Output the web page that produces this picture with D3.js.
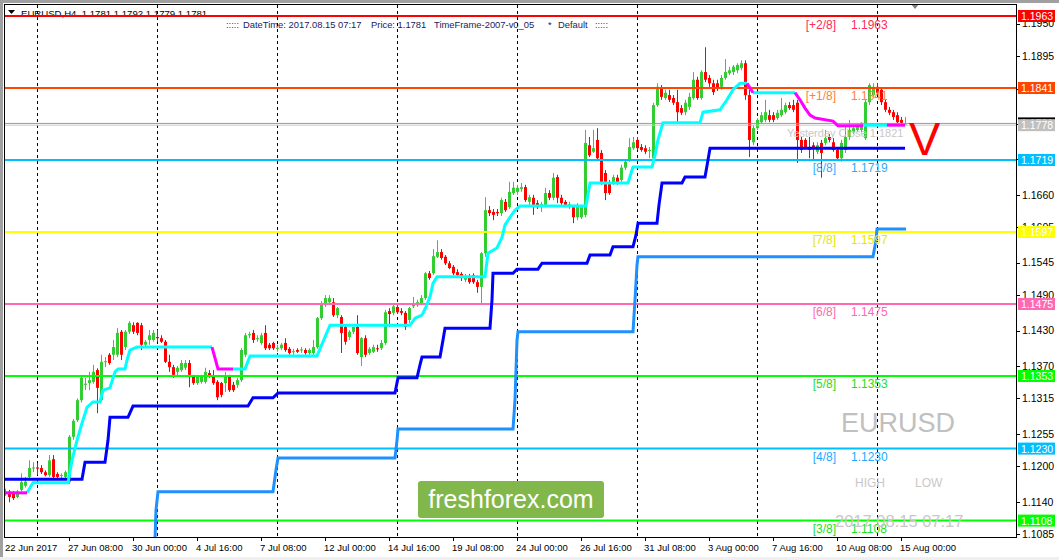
<!DOCTYPE html>
<html><head><meta charset="utf-8">
<script src="https://cdn.jsdelivr.net/npm/d3@7"></script>
<style>
html,body{margin:0;padding:0;background:#fff;}
svg{display:block;font-family:"Liberation Sans",Arial,sans-serif;}
text{white-space:pre;}
</style></head><body>
<svg id="chart" width="1059" height="560"></svg>
<script>
// ---------------- DATA ----------------
const symbolName = "EURUSD";
const headerQuote = "EURUSD,H4  1.1781 1.1792 1.1779 1.1781";
const opens = [1.1153,1.1157,1.1155,1.1148,1.1160,1.1167,1.1182,1.1197,1.1198,1.1197,1.1190,1.1185,1.1212,1.1187,1.1184,1.1182,1.1173,1.1250,1.1278,1.1312,
1.1338,1.1341,1.1343,1.1363,1.1312,1.1377,1.1389,1.1389,1.1389,1.1428,1.1402,1.1428,1.1439,1.1443,1.1439,1.1406,1.1414,1.1414,1.1419,1.1417,
1.1411,1.1377,1.1368,1.1360,1.1363,1.1367,1.1375,1.1352,1.1341,1.1343,1.1343,1.1358,1.1352,1.1343,1.1341,1.1341,1.1352,1.1338,1.1338,1.1346,
1.1389,1.1422,1.1426,1.1416,1.1409,1.1426,1.1406,1.1409,1.1399,1.1400,1.1409,1.1399,1.1394,1.1397,1.1397,1.1397,1.1392,1.1392,1.1402,1.1451,
1.1473,1.1478,1.1478,1.1456,1.1453,1.1436,1.1419,1.1428,1.1436,1.1385,1.1417,1.1392,1.1394,1.1400,1.1400,1.1409,1.1463,1.1460,1.1470,1.1463,
1.1460,1.1448,1.1471,1.1473,1.1476,1.1485,1.1527,1.1527,1.1555,1.1563,1.1555,1.1544,1.1538,1.1529,1.1526,1.1516,1.1521,1.1524,1.1512,1.1504,
1.1561,1.1634,1.1631,1.1631,1.1629,1.1648,1.1639,1.1663,1.1665,1.1670,1.1673,1.1648,1.1655,1.1646,1.1643,1.1643,1.1663,1.1655,1.1690,1.1655,
1.1648,1.1643,1.1639,1.1622,1.1622,1.1626,1.1744,1.1733,1.1753,1.1731,1.1697,1.1680,1.1680,1.1689,1.1685,1.1706,1.1719,1.1739,1.1753,1.1741,
1.1739,1.1735,1.1722,1.1812,1.1841,1.1824,1.1829,1.1824,1.1817,1.1807,1.1800,1.1809,1.1824,1.1855,1.1824,1.1868,1.1858,1.1849,1.1849,1.1843,
1.1858,1.1866,1.1868,1.1871,1.1875,1.1883,1.1829,1.1749,1.1773,1.1783,1.1787,1.1795,1.1795,1.1790,1.1795,1.1800,1.1812,1.1812,1.1816,1.1753,
1.1753,1.1741,1.1744,1.1733,1.1748,1.1748,1.1758,1.1749,1.1736,1.1722,1.1736,1.1758,1.1766,1.1770,1.1770,1.1756,1.1817,1.1829,1.1843,1.1838,
1.1817,1.1804,1.1800,1.1795,1.1787,1.1779];
const highs = [1.1162,1.1160,1.1158,1.1160,1.1188,1.1182,1.1210,1.1207,1.1205,1.1202,1.1193,1.1219,1.1219,1.1190,1.1188,1.1193,1.1253,1.1280,1.1315,1.1355,
1.1350,1.1360,1.1372,1.1366,1.1389,1.1385,1.1392,1.1414,1.1434,1.1431,1.1431,1.1446,1.1444,1.1444,1.1443,1.1414,1.1431,1.1431,1.1431,1.1422,
1.1414,1.1389,1.1372,1.1370,1.1380,1.1380,1.1380,1.1355,1.1355,1.1355,1.1367,1.1363,1.1363,1.1346,1.1343,1.1360,1.1355,1.1343,1.1350,1.1400,
1.1426,1.1428,1.1431,1.1422,1.1426,1.1439,1.1409,1.1411,1.1406,1.1409,1.1417,1.1402,1.1399,1.1400,1.1402,1.1400,1.1400,1.1414,1.1453,1.1480,
1.1490,1.1490,1.1485,1.1470,1.1456,1.1439,1.1431,1.1436,1.1456,1.1419,1.1422,1.1402,1.1406,1.1406,1.1414,1.1465,1.1468,1.1475,1.1475,1.1468,
1.1463,1.1470,1.1487,1.1482,1.1490,1.1529,1.1531,1.1568,1.1583,1.1568,1.1558,1.1548,1.1541,1.1534,1.1529,1.1526,1.1526,1.1527,1.1516,1.1563,
1.1656,1.1641,1.1636,1.1636,1.1655,1.1653,1.1682,1.1682,1.1677,1.1680,1.1677,1.1660,1.1660,1.1651,1.1648,1.1672,1.1668,1.1697,1.1694,1.1660,
1.1651,1.1648,1.1643,1.1646,1.1643,1.1770,1.1758,1.1770,1.1773,1.1736,1.1702,1.1685,1.1694,1.1694,1.1711,1.1719,1.1756,1.1758,1.1758,1.1746,
1.1744,1.1741,1.1816,1.1849,1.1846,1.1838,1.1838,1.1829,1.1838,1.1812,1.1821,1.1833,1.1868,1.1860,1.1871,1.1910,1.1863,1.1855,1.1855,1.1863,
1.1890,1.1877,1.1880,1.1883,1.1888,1.1888,1.1838,1.1778,1.1790,1.1800,1.1821,1.1804,1.1800,1.1804,1.1824,1.1816,1.1817,1.1821,1.1821,1.1758,
1.1756,1.1758,1.1749,1.1749,1.1753,1.1770,1.1763,1.1756,1.1741,1.1753,1.1775,1.1787,1.1778,1.1780,1.1783,1.1821,1.1849,1.1849,1.1849,1.1841,
1.1821,1.1809,1.1804,1.1800,1.1792,1.1792];
const lows = [1.1150,1.1139,1.1143,1.1146,1.1157,1.1164,1.1178,1.1190,1.1185,1.1187,1.1183,1.1182,1.1177,1.1178,1.1180,1.1178,1.1170,1.1245,1.1275,1.1308,
1.1329,1.1329,1.1340,1.1290,1.1309,1.1368,1.1372,1.1380,1.1385,1.1380,1.1397,1.1424,1.1424,1.1422,1.1397,1.1402,1.1406,1.1411,1.1411,1.1409,
1.1375,1.1360,1.1350,1.1352,1.1360,1.1363,1.1334,1.1338,1.1338,1.1340,1.1340,1.1350,1.1338,1.1312,1.1317,1.1326,1.1326,1.1326,1.1333,1.1343,
1.1385,1.1417,1.1409,1.1411,1.1406,1.1397,1.1397,1.1397,1.1394,1.1397,1.1394,1.1389,1.1389,1.1392,1.1392,1.1389,1.1389,1.1389,1.1399,1.1448,
1.1470,1.1475,1.1453,1.1451,1.1392,1.1406,1.1414,1.1424,1.1389,1.1370,1.1385,1.1389,1.1392,1.1394,1.1397,1.1406,1.1436,1.1456,1.1458,1.1456,
1.1431,1.1443,1.1468,1.1470,1.1473,1.1482,1.1516,1.1524,1.1553,1.1550,1.1541,1.1534,1.1524,1.1521,1.1514,1.1512,1.1509,1.1509,1.1494,1.1476,
1.1555,1.1624,1.1617,1.1624,1.1624,1.1631,1.1636,1.1660,1.1660,1.1665,1.1648,1.1643,1.1626,1.1636,1.1631,1.1639,1.1651,1.1651,1.1646,1.1643,
1.1639,1.1636,1.1612,1.1617,1.1619,1.1622,1.1724,1.1731,1.1717,1.1677,1.1651,1.1660,1.1677,1.1677,1.1680,1.1702,1.1716,1.1736,1.1736,1.1733,
1.1729,1.1722,1.1719,1.1809,1.1821,1.1821,1.1817,1.1812,1.1783,1.1795,1.1795,1.1804,1.1821,1.1821,1.1821,1.1851,1.1843,1.1829,1.1836,1.1838,
1.1855,1.1863,1.1863,1.1866,1.1871,1.1821,1.1724,1.1744,1.1770,1.1780,1.1783,1.1783,1.1783,1.1787,1.1792,1.1797,1.1804,1.1800,1.1714,1.1731,
1.1739,1.1722,1.1719,1.1729,1.1689,1.1744,1.1749,1.1733,1.1719,1.1716,1.1731,1.1753,1.1763,1.1766,1.1766,1.1753,1.1812,1.1826,1.1829,1.1812,
1.1800,1.1795,1.1787,1.1780,1.1778,1.1779];
const closes = [1.1157,1.1148,1.1146,1.1157,1.1173,1.1174,1.1197,1.1198,1.1196,1.1190,1.1185,1.1210,1.1182,1.1182,1.1185,1.1190,1.1250,1.1277,1.1312,1.1350,
1.1340,1.1346,1.1360,1.1333,1.1377,1.1378,1.1375,1.1402,1.1426,1.1389,1.1428,1.1443,1.1428,1.1426,1.1406,1.1411,1.1422,1.1426,1.1417,1.1411,
1.1377,1.1368,1.1355,1.1367,1.1375,1.1375,1.1355,1.1341,1.1352,1.1352,1.1360,1.1352,1.1341,1.1317,1.1321,1.1352,1.1329,1.1329,1.1346,1.1397,
1.1422,1.1424,1.1414,1.1417,1.1422,1.1400,1.1400,1.1400,1.1401,1.1406,1.1397,1.1392,1.1395,1.1394,1.1398,1.1392,1.1397,1.1402,1.1451,1.1476,
1.1485,1.1485,1.1456,1.1468,1.1426,1.1411,1.1428,1.1436,1.1392,1.1417,1.1389,1.1399,1.1402,1.1399,1.1409,1.1461,1.1458,1.1471,1.1461,1.1460,
1.1436,1.1468,1.1476,1.1478,1.1485,1.1527,1.1519,1.1556,1.1563,1.1553,1.1544,1.1536,1.1527,1.1524,1.1519,1.1521,1.1512,1.1512,1.1504,1.1561,
1.1634,1.1629,1.1626,1.1629,1.1651,1.1634,1.1665,1.1672,1.1672,1.1673,1.1651,1.1656,1.1643,1.1639,1.1644,1.1663,1.1655,1.1689,1.1655,1.1646,
1.1643,1.1644,1.1622,1.1643,1.1639,1.1748,1.1727,1.1739,1.1722,1.1680,1.1663,1.1663,1.1690,1.1680,1.1706,1.1716,1.1741,1.1749,1.1739,1.1736,
1.1733,1.1736,1.1812,1.1843,1.1826,1.1833,1.1821,1.1816,1.1800,1.1799,1.1816,1.1826,1.1855,1.1824,1.1868,1.1855,1.1849,1.1834,1.1841,1.1858,
1.1868,1.1871,1.1877,1.1880,1.1883,1.1829,1.1753,1.1773,1.1787,1.1795,1.1800,1.1787,1.1787,1.1799,1.1804,1.1812,1.1807,1.1804,1.1753,1.1736,
1.1741,1.1736,1.1739,1.1744,1.1731,1.1756,1.1753,1.1736,1.1722,1.1748,1.1758,1.1770,1.1773,1.1775,1.1782,1.1817,1.1846,1.1843,1.1833,1.1817,
1.1804,1.1799,1.1792,1.1783,1.1782,1.1781];

// trailing line: [barIndex, price]; up = below price (cyan), down = above price (magenta)
const trailUp = [
 [[5.5,1.1155],[7,1.1172],[15.75,1.1172],[16.75,1.1210],[18,1.1244],[19.25,1.1273],[20.5,1.1300],[22,1.1309],[23.75,1.1309],[24.5,1.1329],[26.25,1.1333],[27.5,1.1360],[28.25,1.1365],[30,1.1365],[30.5,1.1380],[31.25,1.1397],[33,1.1402],[51.75,1.1402]],
 [[57,1.1365],[60,1.1365],[61.25,1.1387],[78,1.1387],[81.25,1.1439],[101.25,1.1439],[102.5,1.1451],[104.25,1.1456],[105.25,1.1470],[106.25,1.1487],[107,1.1510],[108,1.1521],[120,1.1521],[120.75,1.1561],[123,1.1570],[124.25,1.1588],[125,1.1609],[126.25,1.1622],[127.5,1.1634],[128.75,1.1641],[145.25,1.1641],[146.25,1.1680],[155.75,1.1680],[157,1.1707],[161.75,1.1707],[162.5,1.1727],[163.25,1.1753],[164.5,1.1782],[173.75,1.1782],[174.5,1.1800],[178.75,1.1804],[180.5,1.1821],[182,1.1838],[183.75,1.1849],[185.5,1.1849]],
 [[187,1.1833],[197.5,1.1833]],
 [[214.5,1.1778],[220.5,1.1778]]
];
const trailDown = [
 [[0,1.1155],[5.5,1.1155]],
 [[51.75,1.1402],[53.25,1.1365],[57,1.1365]],
 [[185.5,1.1849],[187,1.1833]],
 [[197.5,1.1833],[198.75,1.1821],[200,1.1807],[201.25,1.1795],[202.5,1.1790],[207,1.1785],[208.25,1.1777],[214.5,1.1777]],
 [[220.5,1.1778],[225,1.1778]]
];
const dailySupport = [[0,1.1178],[19.25,1.1178],[20,1.1207],[25,1.1207],[25.75,1.1244],[26.25,1.1283],[30.75,1.1283],[32,1.1302],[60.75,1.1302],[62,1.1316],[67,1.1316],[68.25,1.1324],[97.5,1.1324],[98.25,1.1350],[103,1.1350],[103.75,1.1372],[104.25,1.1385],[108.75,1.1385],[109.5,1.1414],[110,1.1434],[121.25,1.1434],[121.75,1.1482],[122,1.1527],[127,1.1527],[128,1.1534],[133.25,1.1534],[134.25,1.1544],[145.5,1.1544],[146.25,1.1558],[151.25,1.1558],[152,1.1572],[157,1.1572],[157.75,1.1592],[158.25,1.1612],[163,1.1612],[163.5,1.1643],[164.25,1.1680],[169.25,1.1680],[170,1.1690],[175,1.1690],[175.75,1.1719],[176.25,1.1739],[225,1.1739]];
const weeklySupport = [[37.5,1.1075],[37.75,1.1126],[38.25,1.1157],[67,1.1157],[67.75,1.1194],[68.25,1.1214],[97.5,1.1214],[98,1.1244],[98.25,1.1263],[127,1.1263],[127.5,1.1312],[128,1.1414],[128.25,1.1428],[157,1.1428],[157.5,1.1482],[158,1.1541],[158.25,1.1555],[217,1.1555],[217.75,1.1583],[218,1.1602],[225.25,1.1602]];

const levelNames  = ["[+2/8]","[+1/8]","[8/8]","[7/8]","[6/8]","[5/8]","[4/8]","[3/8]"];
const levelPrices = [1.1963,1.1841,1.1719,1.1597,1.1475,1.1353,1.1230,1.1108];
const priceTicks = [1.1950,1.1895,1.1840,1.1780,1.1720,1.1660,1.1605,1.1545,1.1490,1.1430,1.1370,1.1315,1.1255,1.1200,1.1140,1.1085];
const bidPrice = 1.1781, markPrice = 1.1778, yesterdayClose = 1.1821;
const weekStarts = [8,38,68,98,128,158,188,218];
const timeTickIdx = [0,16,32,48,64,80,96,112,128,144,160,176,192,208,224];
const timeTickText = ["22 Jun 2017","27 Jun 08:00","30 Jun 00:00","4 Jul 16:00","7 Jul 08:00","12 Jul 00:00","14 Jul 16:00","19 Jul 08:00","24 Jul 00:00","26 Jul 16:00","31 Jul 08:00","3 Aug 00:00","7 Aug 16:00","10 Aug 08:00","15 Aug 00:00"];

// ---------------- STYLE ----------------
const levelLineColors = ["#ff0000","#ff4500","#00bfff","#ffff00","#ff69b4","#00ff00","#00bfff","#00ff00"];
const levelTextColors = ["#ff2a55","#ff8040","#2eaaff","#e6e600","#ff69b4","#22e022","#22aaff","#22e022"];
const bull = "#32cd32", bear = "#ff0000";
const L = 4, T = 4, R = 1016, B = 537, W = 1059, H = 560;

const svg = d3.select("#chart");
const x = d3.scaleLinear().domain([0,225]).range([5,905]);
const y = d3.scaleLinear().domain([1.1085,1.1963]).range([534.16,16]);

// frame
svg.append("rect").attr("width",W).attr("height",H).attr("fill","#ffffff");
svg.append("rect").attr("x",0).attr("y",0).attr("width",W).attr("height",3).attr("fill","#a0a0a0");
svg.append("rect").attr("x",0).attr("y",0).attr("width",3).attr("height",H).attr("fill","#a0a0a0");
svg.append("rect").attr("x",0).attr("y",H-3).attr("width",W).attr("height",3).attr("fill","#f0f0f0");

svg.append("defs").append("clipPath").attr("id","plotclip")
  .append("rect").attr("x",L+1).attr("y",T+1).attr("width",R-L-1).attr("height",B-T-1);
const g = svg.append("g").attr("clip-path","url(#plotclip)");

// header
g.append("path").attr("d","M8,10 L15,10 L11.5,14 Z").attr("fill","#000");
g.append("text").attr("x",21).attr("y",16.5).attr("font-size",9.6).attr("fill","#000").text(headerQuote);
const h2 = g.append("text").attr("y",28).attr("font-size",9.4);
h2.append("tspan").attr("x",226).attr("fill","#8b008b").text(":::::");
h2.append("tspan").attr("x",243).attr("fill","#1b1b5a").text("DateTime: 2017.08.15 07:17");
h2.append("tspan").attr("x",371).attr("fill","#1b1b5a").text("Price: " + bidPrice.toFixed(4));
h2.append("tspan").attr("x",434).attr("fill","#1b1b5a").text("TimeFrame-2007-v0_05");
h2.append("tspan").attr("x",548).attr("fill","#1b1b5a").text("*");
h2.append("tspan").attr("x",558).attr("fill","#1b1b5a").text("Default");
h2.append("tspan").attr("x",595).attr("fill","#8b008b").text(":::::");

// week separators
g.selectAll("line.sep").data(weekStarts).join("line")
  .attr("x1",d=>Math.round(x(d))+0.5).attr("x2",d=>Math.round(x(d))+0.5)
  .attr("y1",T+1).attr("y2",B).attr("stroke","#000").attr("stroke-width",1).attr("stroke-dasharray","3,3");

// candles
const bars = d3.range(opens.length).map(i=>({i,o:opens[i],h:highs[i],l:lows[i],c:closes[i]}));
const cg = g.append("g");
cg.selectAll("line.wick").data(bars).join("line")
  .attr("x1",d=>Math.round(x(d.i))+0.5).attr("x2",d=>Math.round(x(d.i))+0.5)
  .attr("y1",d=>y(d.h)).attr("y2",d=>y(d.l))
  .attr("stroke",d=>d.c>=d.o?bull:bear).attr("stroke-width",1);
cg.selectAll("rect.body").data(bars).join("rect")
  .attr("x",d=>Math.round(x(d.i))-1).attr("width",3)
  .attr("y",d=>Math.min(y(d.o),y(d.c)))
  .attr("height",d=>Math.max(1,Math.abs(y(d.o)-y(d.c))))
  .attr("fill",d=>d.c>=d.o?bull:bear);

// level lines
g.selectAll("line.lvl").data(levelPrices).join("line")
  .attr("x1",L).attr("x2",R).attr("y1",d=>y(d)).attr("y2",d=>y(d))
  .attr("stroke",(d,i)=>levelLineColors[i]).attr("stroke-width",2);
// bid lines
g.append("line").attr("x1",L).attr("x2",R).attr("y1",y(bidPrice)).attr("y2",y(bidPrice)).attr("stroke","#9a9a9a").attr("stroke-width",1);
g.append("line").attr("x1",L).attr("x2",R).attr("y1",y(markPrice)).attr("y2",y(markPrice)).attr("stroke","#c8c8c8").attr("stroke-width",1);

// indicator lines
const line = d3.line().x(d=>x(d[0])).y(d=>y(d[1]));
g.append("path").datum(weeklySupport).attr("d",line).attr("fill","none").attr("stroke","#1e90ff").attr("stroke-width",3);
g.append("path").datum(dailySupport).attr("d",line).attr("fill","none").attr("stroke","#0000ff").attr("stroke-width",3);
g.selectAll("path.tu").data(trailUp).join("path").attr("d",line).attr("fill","none").attr("stroke","#00ffff").attr("stroke-width",3);
g.selectAll("path.td").data(trailDown).join("path").attr("d",line).attr("fill","none").attr("stroke","#ff00ff").attr("stroke-width",3);

// level labels
g.selectAll("text.ln").data(levelPrices).join("text")
  .attr("x",836).attr("y",d=>y(d)+12.5).attr("text-anchor","end").attr("font-size",12)
  .attr("fill",(d,i)=>levelTextColors[i]).text((d,i)=>levelNames[i]);
g.selectAll("text.lp").data(levelPrices).join("text")
  .attr("x",851).attr("y",d=>y(d)+12.5).attr("font-size",12)
  .attr("fill",(d,i)=>levelTextColors[i]).text(d=>d.toFixed(4));

g.append("text").attr("x",787).attr("y",137).attr("font-size",11).attr("fill","#c8c8c8")
  .text("Yesterday Close " + yesterdayClose.toFixed(4));
g.append("text").attr("x",841).attr("y",432).attr("font-size",27).attr("fill","#c0c0c0").text(symbolName);
g.append("text").attr("x",855).attr("y",487).attr("font-size",12).attr("fill","#c8c8c8").text("HIGH");
g.append("text").attr("x",915).attr("y",487).attr("font-size",12).attr("fill","#c8c8c8").text("LOW");
g.append("text").attr("x",835).attr("y",527).attr("font-size",16.5).attr("fill","#c8c8c8").text("2017.08.15 07:17");
g.append("text").attr("x",909).attr("y",155).attr("font-size",47).attr("fill","#ff0000").text("V");

// watermark
g.append("rect").attr("x",418).attr("y",481).attr("width",186).attr("height",37).attr("rx",3).attr("fill","#82b74b");
g.append("text").attr("x",511).attr("y",508).attr("text-anchor","middle").attr("font-size",25).attr("fill","#ffffff").text("freshforex.com");

// chart shift marker
svg.append("path").attr("d","M911,4 L919,4 L915,9 Z").attr("fill","#808080");

// frame lines
svg.append("line").attr("x1",L+0.5).attr("x2",L+0.5).attr("y1",T).attr("y2",B+0.5).attr("stroke","#000");
svg.append("line").attr("x1",L).attr("x2",R+1).attr("y1",T+0.5).attr("y2",T+0.5).attr("stroke","#000");
svg.append("line").attr("x1",R+0.5).attr("x2",R+0.5).attr("y1",T).attr("y2",B+0.5).attr("stroke","#000");
svg.append("line").attr("x1",L).attr("x2",R+1).attr("y1",B+0.5).attr("y2",B+0.5).attr("stroke","#000");

// price axis
const ax = svg.append("g");
ax.selectAll("line.pt").data(priceTicks).join("line")
  .attr("x1",R).attr("x2",R+4).attr("y1",d=>Math.round(y(d))+0.5).attr("y2",d=>Math.round(y(d))+0.5).attr("stroke","#000");
ax.selectAll("text.pt").data(priceTicks).join("text")
  .attr("x",1022).attr("y",d=>y(d)+3.8).attr("font-size",10.5).attr("fill","#000").text(d=>d.toFixed(4));
// price tags
function tag(p, fill, txt){
  ax.append("rect").attr("x",1018).attr("y",y(p)-6).attr("width",37).attr("height",12).attr("fill",fill);
  ax.append("text").attr("x",1021).attr("y",y(p)+4).attr("font-size",10.5).attr("fill",txt).text(p.toFixed(4));
}
tag(bidPrice,"#000000","#ffffff");
tag(markPrice,"#c0c0c0","#ffffff");
levelPrices.forEach((p,i)=>tag(p, levelLineColors[i], "#ffffff"));

// time axis
ax.selectAll("line.tt").data(timeTickIdx.slice(1)).join("line")
  .attr("x1",d=>Math.round(x(d))+0.5).attr("x2",d=>Math.round(x(d))+0.5).attr("y1",B).attr("y2",B+4).attr("stroke","#000");
ax.selectAll("text.tt").data(timeTickIdx).join("text")
  .attr("x",(d,i)=>i===0?5:x(d)-1).attr("y",551).attr("font-size",9.5).attr("fill","#000")
  .text((d,i)=>timeTickText[i]);
</script>
</body></html>
